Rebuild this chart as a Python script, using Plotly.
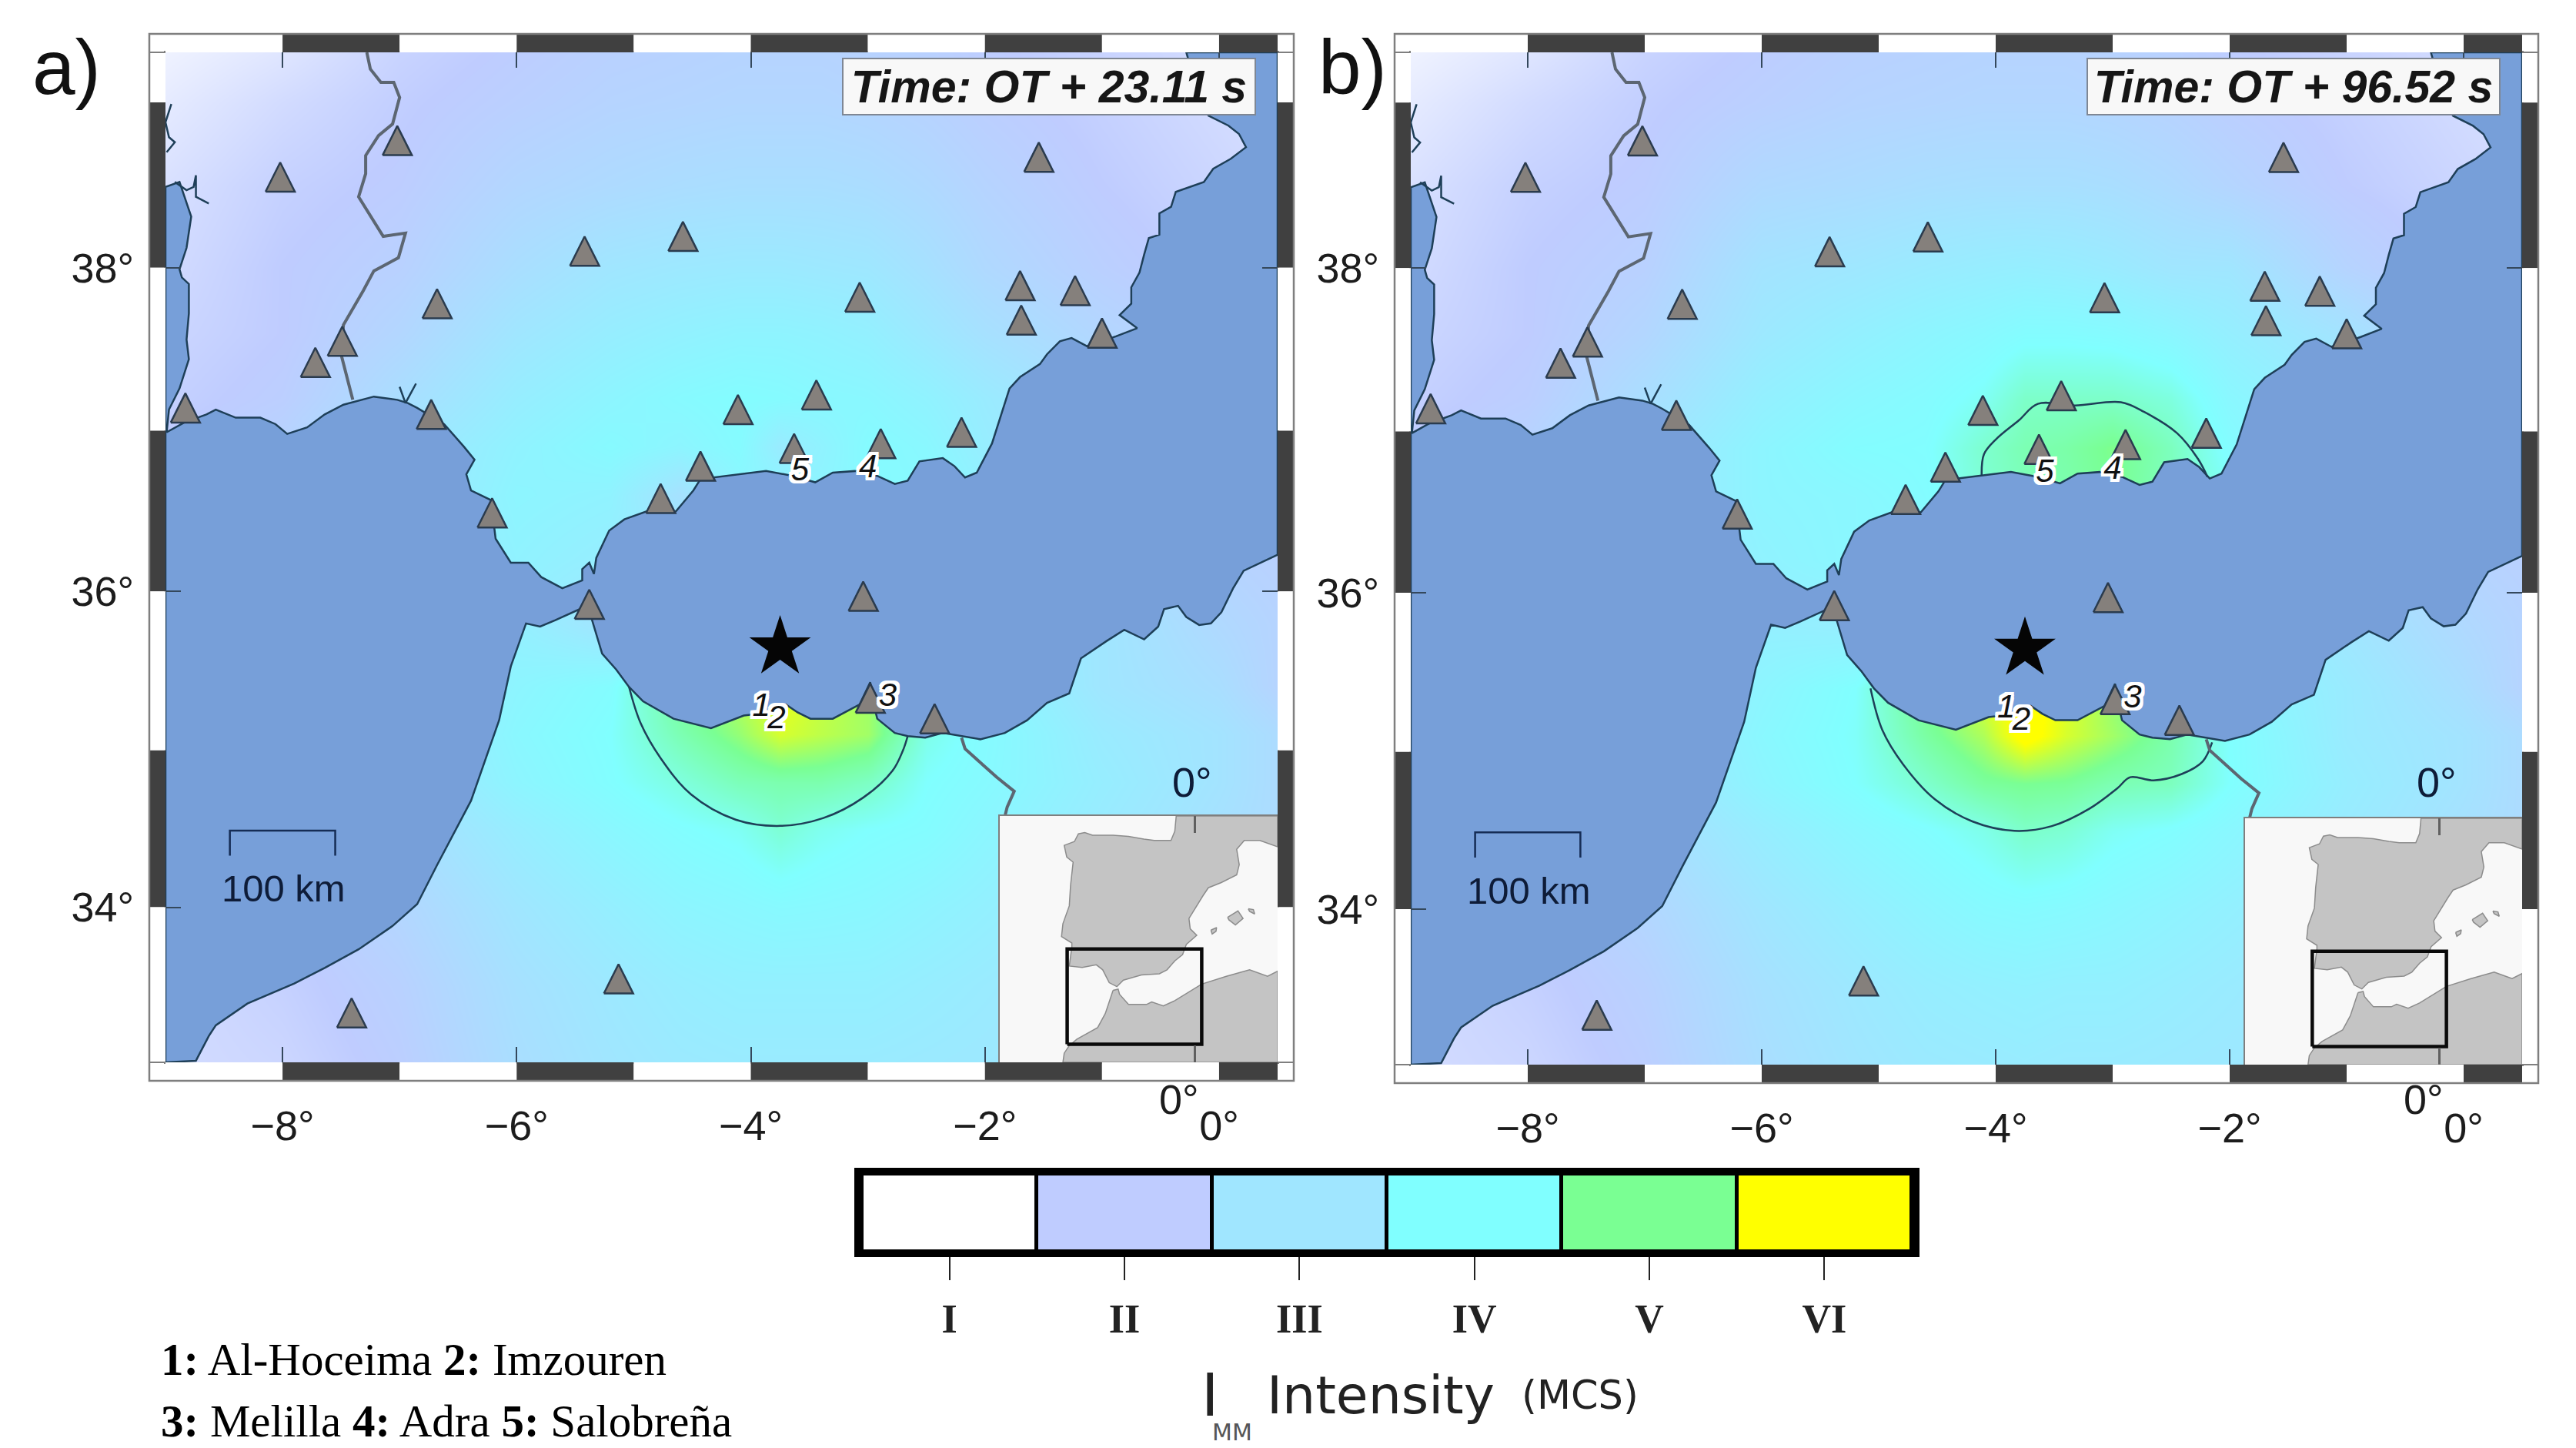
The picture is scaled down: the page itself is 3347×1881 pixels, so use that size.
import math
import plotly.graph_objects as go

W, H = 3347, 1881

# ---------- data (lon / lat in degrees) ----------
SEA_LON = [-9.0,-8.88,-8.78,-8.82,-8.88,-8.86,-8.80,-8.80,-8.82,-8.80,-8.88,-8.97,-8.99,-8.84,-8.65,-8.57,-8.40,-8.19,-8.06,-7.96,-7.79,-7.64,-7.48,-7.22,-7.02,-6.93,-6.85,-6.62,-6.45,-6.36,-6.43,-6.39,-6.22,-6.18,-6.05,-5.90,-5.79,-5.61,-5.44,-5.44,-5.38,-5.34,-5.32,-5.21,-5.08,-4.89,-4.64,-4.49,-4.43,-4.09,-3.87,-3.64,-3.45,-3.30,-3.11,-2.92,-2.77,-2.66,-2.56,-2.36,-2.26,-2.17,-2.07,-1.94,-1.83,-1.81,-1.79,-1.70,-1.53,-1.47,-1.36,-1.26,-1.13,-0.88,-0.70,-0.85,-0.75,-0.75,-0.68,-0.64,-0.60,-0.51,-0.51,-0.41,-0.37,-0.13,-0.05,0.10,0.23,0.17,0.08,-0.09,-0.15,-0.28,0.5,0.5,0.33,0.21,0.12,0.02,-0.07,-0.17,-0.28,-0.35,-0.47,-0.52,-0.64,-0.81,-0.96,-1.18,-1.28,-1.47,-1.64,-1.83,-2.04,-2.20,-2.36,-2.51,-2.66,-2.77,-2.92,-2.94,-2.98,-3.07,-3.15,-3.30,-3.49,-3.60,-3.70,-3.83,-4.06,-4.34,-4.66,-4.92,-5.04,-5.15,-5.27,-5.36,-5.38,-5.46,-5.67,-5.80,-5.92,-6.05,-6.15,-6.39,-6.68,-6.85,-7.06,-7.35,-7.64,-7.90,-8.30,-8.57,-8.63,-8.74,-9.0,-9.0]
SEA_LAT = [38.49,38.52,38.31,38.12,37.99,37.94,37.90,37.72,37.56,37.44,37.26,37.13,36.99,37.05,37.10,37.13,37.08,37.08,37.04,36.98,37.02,37.10,37.16,37.21,37.19,37.17,37.14,37.04,36.90,36.82,36.73,36.63,36.57,36.33,36.18,36.18,36.09,36.02,36.07,36.14,36.18,36.11,36.21,36.38,36.45,36.50,36.50,36.63,36.70,36.73,36.75,36.72,36.68,36.74,36.75,36.72,36.67,36.69,36.81,36.83,36.78,36.71,36.74,36.92,37.17,37.21,37.26,37.33,37.41,37.47,37.55,37.57,37.52,37.58,37.63,37.71,37.78,37.88,37.97,38.08,38.18,38.20,38.33,38.37,38.46,38.52,38.60,38.66,38.73,38.81,38.86,38.92,38.98,39.30,39.30,36.23,36.17,36.13,36.02,35.87,35.80,35.79,35.84,35.91,35.89,35.78,35.70,35.76,35.69,35.58,35.36,35.30,35.19,35.11,35.07,35.09,35.11,35.08,35.09,35.11,35.20,35.26,35.43,35.29,35.26,35.20,35.20,35.24,35.29,35.24,35.22,35.14,35.20,35.31,35.40,35.51,35.61,35.83,35.99,35.89,35.82,35.78,35.80,35.53,35.19,34.68,34.27,34.02,33.88,33.73,33.61,33.51,33.38,33.24,33.17,33.01,33.0,38.49]

TAGUS_LON = [-8.92,-8.82,-8.76,-8.74,-8.74,-8.63]
TAGUS_LAT = [38.52,38.47,38.49,38.56,38.43,38.39]
LISBON_LON = [-8.95,-9.0,-8.97,-8.92,-8.99]
LISBON_LAT = [38.99,38.88,38.79,38.76,38.70]
HUELVA_LON = [-7.0,-6.95,-6.86]
HUELVA_LAT = [37.27,37.17,37.29]

PT_ES_LON = [-7.28,-7.25,-7.16,-7.05,-7.0,-7.06,-7.18,-7.29,-7.29,-7.35,-7.14,-6.95,-7.01,-7.22,-7.31,-7.48,-7.50,-7.40]
PT_ES_LAT = [39.30,39.20,39.12,39.12,39.03,38.87,38.80,38.68,38.57,38.43,38.19,38.21,38.06,37.98,37.86,37.65,37.47,37.19]
MA_DZ_LON = [-2.20,-2.17,-2.02,-1.90,-1.75,-1.81,-1.83]
MA_DZ_LAT = [35.08,35.01,34.91,34.83,34.74,34.64,34.58]

STATION_LON = [-8.02,-7.02,-5.42,-4.58,-6.68,-7.49,-7.72,-4.11,-6.73,-8.83,-4.43,-6.21,-4.77,-1.54,-3.07,-1.70,-1.23,-1.69,-1.00,-3.44,-2.20,-2.89,-3.63,-5.38,-5.13,-7.41,-3.04,-2.43,-2.98]
STATION_LAT = [38.55,38.77,38.10,38.19,37.78,37.55,37.42,37.13,37.10,37.14,36.78,36.49,36.58,38.67,37.82,37.89,37.86,37.68,37.60,37.22,36.99,36.92,36.89,35.92,33.54,33.32,35.97,35.20,35.33]
EPICENTRE = (-3.75, 35.65)

CITY_IDS = ["1", "2", "3", "4", "5"]
CITY_LON = [-3.91, -3.78, -2.83, -3.00, -3.58]
CITY_LAT = [35.27, 35.19, 35.33, 36.76, 36.74]

CONTOUR_A_LON = [-5.04,-4.94,-4.77,-4.51,-4.13,-3.75,-3.38,-3.04,-2.79,-2.70,-2.66]
CONTOUR_A_LAT = [35.40,35.17,34.95,34.72,34.56,34.52,34.57,34.70,34.87,35.00,35.09]
CONTOUR_B_S_LON = [-5.07,-4.97,-4.79,-4.52,-4.20,-3.84,-3.52,-3.20,-2.96,-2.85,-2.65,-2.41,-2.23,-2.15]
CONTOUR_B_S_LAT = [35.40,35.14,34.92,34.70,34.56,34.50,34.53,34.64,34.77,34.84,34.82,34.86,34.94,35.06]
CONTOUR_B_N_LON = [-4.12,-4.10,-4.00,-3.80,-3.64,-3.32,-2.93,-2.73,-2.45,-2.27,-2.19]
CONTOUR_B_N_LAT = [36.73,36.86,36.95,37.07,37.17,37.16,37.18,37.12,36.99,36.83,36.72]

LAT_GRID = [33.0,33.5,34.0,34.5,34.8,35.1,35.4,35.8,36.2,36.6,36.9,37.2,37.6,38.0,38.5,39.0,39.3]
LON_GRID = [-9,-8,-7,-6,-5.2,-4.6,-4.1,-3.75,-3.4,-3,-2.5,-2,-1,0,0.5]

INTENSITY_A = [
 [1.7,1.8,2.1,2.7,3.0,3.15,3.2,3.2,3.2,3.2,3.15,3.1,3.0,2.8,2.6],
 [1.7,1.9,2.2,2.8,3.1,3.3,3.4,3.4,3.4,3.4,3.3,3.2,3.0,2.8,2.6],
 [1.8,2.0,2.4,3.0,3.35,3.6,3.7,3.78,3.75,3.7,3.55,3.4,3.1,2.8,2.6],
 [1.9,2.1,2.7,3.3,3.7,3.95,4.1,4.4,4.15,4.0,3.9,3.65,3.2,2.8,2.6],
 [2.0,2.2,2.9,3.6,3.95,4.3,4.65,4.75,4.75,4.55,4.0,3.8,3.3,2.9,2.6],
 [2.0,2.3,3.0,3.7,4.0,4.7,5.2,5.7,5.5,5.3,4.2,3.85,3.2,2.9,2.6],
 [2.0,2.3,3.0,3.6,3.9,5.0,5.5,5.9,5.6,5.3,4.2,3.7,3.0,2.7,2.3],
 [2.0,2.3,3.0,3.4,2.9,3.5,4.0,4.0,4.0,4.0,3.8,3.5,3.0,2.5,2.3],
 [2.0,2.3,3.0,3.5,3.3,3.3,3.5,3.5,3.5,3.5,3.3,3.0,2.7,2.3,2.2],
 [2.1,2.4,3.0,3.6,3.5,2.8,3.6,3.7,3.6,3.8,3.8,3.5,3.0,2.5,2.2],
 [2.0,2.3,3.0,3.5,3.8,3.6,3.85,3.2,3.5,3.85,3.7,3.3,2.8,2.3,2.0],
 [1.9,2.1,2.7,3.3,3.6,3.8,3.9,3.85,3.75,3.7,3.5,3.2,2.7,2.2,1.9],
 [1.8,2.0,2.4,3.0,3.3,3.45,3.55,3.55,3.5,3.4,3.1,2.8,2.4,2.1,1.9],
 [1.7,2.0,2.2,2.7,3.0,3.1,3.15,3.15,3.1,3.05,2.8,2.5,2.15,1.9,1.8],
 [1.6,1.9,2.05,2.4,2.55,2.65,2.7,2.7,2.7,2.65,2.5,2.3,2.0,1.8,1.7],
 [1.4,1.7,1.95,2.15,2.3,2.35,2.4,2.4,2.4,2.35,2.25,2.1,1.9,1.7,1.6],
 [1.25,1.5,1.85,2.05,2.2,2.25,2.3,2.3,2.3,2.25,2.2,2.05,1.85,1.7,1.6],
]
INTENSITY_B = [
 [1.7,1.8,2.1,2.7,3.0,3.15,3.2,3.25,3.2,3.2,3.15,3.1,3.0,2.8,2.6],
 [1.7,1.9,2.2,2.8,3.1,3.3,3.4,3.45,3.4,3.4,3.3,3.2,3.0,2.8,2.6],
 [1.8,2.0,2.4,3.0,3.35,3.6,3.8,3.85,3.8,3.7,3.55,3.4,3.1,2.8,2.6],
 [1.9,2.1,2.7,3.3,3.7,3.95,4.2,4.5,4.4,4.1,3.95,3.7,3.2,2.8,2.6],
 [2.0,2.2,2.9,3.6,4.0,4.45,4.9,5.0,4.95,4.7,4.6,4.0,3.3,2.9,2.6],
 [2.0,2.3,3.0,3.7,4.05,4.85,5.4,6.2,5.7,5.3,4.75,4.0,3.2,2.9,2.6],
 [2.0,2.3,3.0,3.6,4.0,5.1,5.8,6.3,5.8,5.2,4.6,3.8,3.2,2.7,2.3],
 [2.0,2.3,3.0,3.4,3.3,3.8,4.0,4.0,4.0,4.0,3.8,3.5,3.0,2.5,2.3],
 [2.0,2.3,3.0,3.5,3.7,3.6,3.7,3.7,3.7,3.7,3.5,3.2,2.8,2.3,2.2],
 [2.1,2.4,3.0,3.6,3.7,3.9,4.4,4.65,4.75,5.0,4.6,4.1,3.2,2.5,2.2],
 [2.0,2.3,3.0,3.6,3.9,3.95,4.45,4.7,4.8,5.05,4.6,3.9,3.0,2.4,2.0],
 [1.9,2.1,2.7,3.4,3.7,3.85,4.1,4.5,4.5,4.5,4.3,3.7,3.2,2.3,1.9],
 [1.8,2.0,2.4,3.1,3.4,3.6,3.75,3.9,3.9,3.85,3.65,3.35,2.9,2.1,1.9],
 [1.7,2.0,2.2,2.9,3.05,3.2,3.3,3.35,3.3,3.2,3.0,3.0,2.3,1.9,1.8],
 [1.6,1.9,2.05,2.5,2.6,2.7,2.75,2.75,2.75,2.7,2.55,2.35,2.0,1.8,1.7],
 [1.4,1.7,1.95,2.15,2.3,2.35,2.4,2.4,2.4,2.35,2.25,2.1,1.9,1.7,1.6],
 [1.25,1.5,1.85,2.05,2.2,2.25,2.3,2.3,2.3,2.25,2.2,2.05,1.85,1.7,1.6],
]

INSET_IBERIA_LON = [-1.3,-1.40,-1.67,-2.85,-3.58,-4.67,-5.76,-7.21,-7.76,-8.21,-8.49,-9.21,-9.03,-8.58,-8.76,-8.85,-9.3,-9.4,-8.67,-8.67,-8.85,-7.94,-6.94,-6.49,-6.03,-5.49,-5.03,-3.76,-2.49,-1.95,-1.4,-0.85,-0.58,0.15,-0.31,-0.4,0.6,0.97,1.88,2.97,3.15,2.97,3.51,4.6,5.86,5.86]
INSET_IBERIA_LAT = [48.08,47.07,46.47,46.47,46.56,46.73,46.81,46.81,46.98,46.9,46.39,46.14,45.37,45.03,43.51,42.15,40.97,40.12,39.69,39.44,38.17,38.08,38.25,37.92,37.07,36.81,37.24,37.58,37.66,37.92,38.51,38.93,39.61,40.2,40.63,41.31,42.83,43.34,43.68,44.19,44.86,45.88,46.47,46.47,46.05,48.08]
INSET_AFRICA_LON = [-5.76,-6.31,-6.85,-8.31,-8.85,-9.21,-9.3,5.86,5.86,5.15,3.88,2.24,0.5,-0.49,-1.4,-2.21,-3.03,-3.4,-4.67,-5.3,-5.4]
INSET_AFRICA_LAT = [36.56,35.03,34.1,33.34,32.92,32.41,31.81,31.81,37.83,37.49,37.92,37.49,36.98,36.39,35.88,35.54,35.8,35.63,35.63,36.3,36.64]
MALLORCA_LON = [2.33,3.06,3.42,2.88,2.42]
MALLORCA_LAT = [41.39,41.81,41.31,40.88,41.22]
IBIZA_LON = [1.15,1.55,1.51,1.24]
IBIZA_LAT = [40.54,40.71,40.46,40.29]
MENORCA_LON = [3.79,4.15,4.24,3.88]
MENORCA_LAT = [41.95,41.9,41.61,41.78]

SCALE_LON = [-8.45, -8.45, -7.55, -7.55]
SCALE_LAT = [34.33, 34.49, 34.49, 34.33]

X_TICKS = [-8, -6, -4, -2, 0]
X_TICK_TEXT = ["−8°", "−6°", "−4°", "−2°", "0°"]
Y_TICKS = [34, 36, 38]
Y_TICK_TEXT = ["34°", "36°", "38°"]
BAND_LON = [-9, -8, -7, -6, -5, -4, -3, -2, -1, 0, 0.5]
BAND_LAT_TOP_DOWN = [39.3, 39, 38, 37, 36, 35, 34, 33]

MMI_LABELS = ["I", "II", "III", "IV", "V", "VI"]
MMI_VALUES = [1, 2, 3, 4, 5, 6]
MMI_COLORS = ["#FFFFFF", "#BFCCFF", "#A0E6FF", "#80FFFF", "#7AFF93", "#FFFF00"]

LON_MIN, LON_MAX, LAT_MIN, LAT_MAX = -9.0, 0.5, 33.0, 39.3
INSET_X = [-13.76, 5.86]
INSET_Y = [31.81, 48.08]
# ---------- end of data ----------

def merc(lat):
    return math.degrees(math.log(math.tan(math.pi / 4 + math.radians(lat) / 2)))

def mm(lats):
    return [merc(v) for v in lats]

SANS = "Liberation Sans"
SERIF = "Liberation Serif"
SEA = "#779FD9"
COAST = "#1E3F58"
BORDER = "#5C6672"
DARK = "#404040"
FRAME = "#7F7F7F"
INK = "#1C1C1C"
colorscale = [[(v - 1) / 5, c] for v, c in zip(MMI_VALUES, MMI_COLORS)]

fig = go.Figure()
shapes, annotations = [], []
layout = {}

def px_x(p):
    return p / W

def px_y(p):
    return 1 - p / H

def line(x, y, color, width, xa, ya, shape="linear"):
    fig.add_trace(go.Scatter(x=x, y=y, mode="lines", line=dict(color=color, width=width, shape=shape),
                             xaxis=xa, yaxis=ya, hoverinfo="skip", showlegend=False))

def text(x, y, s, size, family=SANS, color=INK, xanchor="center", **kw):
    annotations.append(dict(xref="paper", yref="paper", x=px_x(x), y=px_y(y), text=s, showarrow=False,
                            xanchor=xanchor, yanchor="middle",
                            font=dict(size=size, family=family, color=color), **kw))

HALO = ", ".join(f"{a}px {b}px 0 #fff" for a in (-4, -2, 0, 2, 4) for b in (-4, -2, 0, 2, 4))

def panel(n, xa, ya, ixa, iya, x0, x1, y0, y1, ix0, iy0, z, contours, letter, letter_x, time_text, time_x0, label_dx):
    sfx = "" if n == 1 else str(n)
    layout["xaxis" + sfx] = dict(domain=[px_x(x0), px_x(x1)], range=[LON_MIN, LON_MAX], anchor=ya,
        tickvals=X_TICKS, ticktext=X_TICK_TEXT,
        ticks="inside", ticklen=20, tickwidth=2, tickcolor="#34485C", showgrid=False, zeroline=False,
        showline=True, linecolor=FRAME, linewidth=2, mirror="ticks", ticklabelstandoff=34,
        tickfont=dict(size=54, family=SANS, color=INK))
    layout["yaxis" + sfx] = dict(domain=[px_y(y1), px_y(y0)], range=[merc(LAT_MIN), merc(LAT_MAX)], anchor=xa,
        tickvals=mm(Y_TICKS), ticktext=Y_TICK_TEXT,
        ticks="inside", ticklen=20, tickwidth=2, tickcolor="#34485C", showgrid=False, zeroline=False,
        showline=True, linecolor=FRAME, linewidth=2, mirror="ticks", ticklabelstandoff=28,
        tickfont=dict(size=54, family=SANS, color=INK))
    fig.add_trace(go.Heatmap(x=LON_GRID, y=mm(LAT_GRID), z=z, zmin=1, zmax=6, colorscale=colorscale,
                             zsmooth="best", showscale=False, xaxis=xa, yaxis=ya, hoverinfo="skip"))
    fig.add_trace(go.Scatter(x=SEA_LON, y=mm(SEA_LAT), mode="lines", fill="toself", fillcolor=SEA,
                             line=dict(color=COAST, width=2.5), xaxis=xa, yaxis=ya,
                             hoverinfo="skip", showlegend=False))
    for sx, sy in ((TAGUS_LON, TAGUS_LAT), (LISBON_LON, LISBON_LAT), (HUELVA_LON, HUELVA_LAT)):
        line(sx, mm(sy), COAST, 2.5, xa, ya)
    for cx, cy in contours:
        line(cx, mm(cy), COAST, 2.5, xa, ya, shape="spline")
    line(PT_ES_LON, mm(PT_ES_LAT), BORDER, 4, xa, ya)
    line(MA_DZ_LON, mm(MA_DZ_LAT), BORDER, 4, xa, ya)
    line(SCALE_LON, mm(SCALE_LAT), "#152C55", 2.5, xa, ya)
    annotations.append(dict(xref=xa, yref=ya, x=-7.99, y=merc(34.12), text="100 km", showarrow=False,
                            font=dict(size=49, family=SANS, color="#0E1C38")))
    half_w = 19 / 152
    half_h = 19 / 168
    tx, ty = [], []
    for lon, lat in zip(STATION_LON, STATION_LAT):
        m = merc(lat)
        tx += [lon - half_w, lon + half_w, lon, lon - half_w, None]
        ty += [m - half_h, m - half_h, m + half_h, m - half_h, None]
    fig.add_trace(go.Scatter(x=tx, y=ty, mode="lines", fill="toself", fillcolor="#85807C",
                             line=dict(color="#2A3B4E", width=2.5), xaxis=xa, yaxis=ya,
                             hoverinfo="skip", showlegend=False))
    fig.add_trace(go.Scatter(x=[EPICENTRE[0]], y=[merc(EPICENTRE[1])], mode="markers",
                             marker=dict(symbol="star", size=60, color="#050505", line=dict(width=0)),
                             xaxis=xa, yaxis=ya, hoverinfo="skip", showlegend=False))
    fig.add_trace(go.Scatter(x=CITY_LON, y=mm(CITY_LAT), mode="text", text=CITY_IDS,
                             textposition="middle center",
                             textfont=dict(size=42, family=SANS, color="#111111", style="italic", shadow=HALO),
                             xaxis=xa, yaxis=ya, hoverinfo="skip", showlegend=False))
    dw, dh_t, dh_b = 21 / (x1 - x0), 24 / (y1 - y0), 24 / (y1 - y0)
    for i in range(len(BAND_LON) - 1):
        col = DARK if i % 2 else "#FFFFFF"
        shapes.append(dict(type="rect", xref=xa, yref=ya + " domain", x0=BAND_LON[i], x1=BAND_LON[i + 1],
                           y0=1, y1=1 + dh_t, fillcolor=col, line_width=0))
        shapes.append(dict(type="rect", xref=xa, yref=ya + " domain", x0=BAND_LON[i], x1=BAND_LON[i + 1],
                           y0=-dh_b, y1=0, fillcolor=col, line_width=0))
    for i in range(len(BAND_LAT_TOP_DOWN) - 1):
        col = DARK if i % 2 else "#FFFFFF"
        a, b = merc(BAND_LAT_TOP_DOWN[i + 1]), merc(BAND_LAT_TOP_DOWN[i])
        shapes.append(dict(type="rect", xref=xa + " domain", yref=ya, x0=-dw, x1=0, y0=a, y1=b, fillcolor=col, line_width=0))
        shapes.append(dict(type="rect", xref=xa + " domain", yref=ya, x0=1, x1=1 + dw, y0=a, y1=b, fillcolor=col, line_width=0))
    shapes.append(dict(type="rect", xref=xa + " domain", yref=ya + " domain", x0=-dw, x1=1 + dw, y0=-dh_b, y1=1 + dh_t,
                       line=dict(color=FRAME, width=2.5), fillcolor="rgba(0,0,0,0)"))
    for xx in ((-dw, 0), (1, 1 + dw)):
        shapes.append(dict(type="line", xref=xa + " domain", yref=ya + " domain", x0=xx[0], x1=xx[1], y0=1, y1=1, line=dict(color=FRAME, width=2)))
        shapes.append(dict(type="line", xref=xa + " domain", yref=ya + " domain", x0=xx[0], x1=xx[1], y0=0, y1=0, line=dict(color=FRAME, width=2)))
    isfx = str(n + 2)
    layout["xaxis" + isfx] = dict(domain=[px_x(ix0), px_x(x1)], range=INSET_X, anchor=iya, tickvals=[0],
        showticklabels=False, ticks="inside", ticklen=22, tickwidth=3, tickcolor="#606060", showgrid=False,
        zeroline=False, showline=True, linecolor=FRAME, linewidth=2, mirror="ticks")
    layout["yaxis" + isfx] = dict(domain=[px_y(y1), px_y(iy0)], range=INSET_Y, anchor=ixa, showticklabels=False,
        ticks="", showgrid=False, zeroline=False, showline=True, linecolor=FRAME, linewidth=2, mirror=True)
    fig.add_trace(go.Scatter(x=[INSET_X[0], INSET_X[1], INSET_X[1], INSET_X[0], INSET_X[0]],
                             y=[INSET_Y[0], INSET_Y[0], INSET_Y[1], INSET_Y[1], INSET_Y[0]],
                             mode="lines", fill="toself", fillcolor="#F8F8F8", line=dict(width=0),
                             xaxis=ixa, yaxis=iya, hoverinfo="skip", showlegend=False))
    for lx, ly in ((INSET_IBERIA_LON, INSET_IBERIA_LAT), (INSET_AFRICA_LON, INSET_AFRICA_LAT),
                   (MALLORCA_LON, MALLORCA_LAT), (IBIZA_LON, IBIZA_LAT), (MENORCA_LON, MENORCA_LAT)):
        fig.add_trace(go.Scatter(x=lx + lx[:1], y=ly + ly[:1], mode="lines", fill="toself", fillcolor="#C4C4C4",
                                 line=dict(color="#8C8C8C", width=1.5), xaxis=ixa, yaxis=iya,
                                 hoverinfo="skip", showlegend=False))
    line([LON_MIN, LON_MAX, LON_MAX, LON_MIN, LON_MIN], [LAT_MIN, LAT_MIN, LAT_MAX, LAT_MAX, LAT_MIN], "#0A0A0A", 4.5, ixa, iya)
    text(label_dx + 1549, 1016, "0°", 54, color="#0E1C38")
    text(label_dx + 1532, 1428, "0°", 54)
    text(letter_x, 87, letter, 100, color="#111111", xanchor="left")
    annotations.append(dict(xref="paper", yref="paper", x=px_x(time_x0), y=px_y(112.5), xanchor="left", yanchor="middle",
                            text=f"<b><i>{time_text}</i></b>", showarrow=False, width=534, height=71, align="center",
                            bgcolor="#F8F8F8", bordercolor="#7F8794", borderwidth=2, borderpad=0,
                            font=dict(size=59, family=SANS, color="#161616")))

panel(1, "x", "y", "x3", "y3", 215, 1660, 68, 1380, 1299, 1060, INTENSITY_A,
      [(CONTOUR_A_LON, CONTOUR_A_LAT)], "a)", 40, "Time: OT + 23.11 s", 1094, 0)
panel(2, "x2", "y2", "x4", "y4", 1833, 3277, 68, 1383, 2917, 1063, INTENSITY_B,
      [(CONTOUR_B_S_LON, CONTOUR_B_S_LAT), (CONTOUR_B_N_LON, CONTOUR_B_N_LAT)], "b)", 1711, "Time: OT + 96.52 s", 2711, 1617)

fig.add_trace(go.Heatmap(x=MMI_LABELS, y=["MMI"], z=[MMI_VALUES], zmin=1, zmax=6, colorscale=colorscale, showscale=False,
                         xgap=5, xaxis="x5", yaxis="y5", hoverinfo="skip"))
layout["xaxis5"] = dict(domain=[px_x(1120), px_x(2484)], anchor="y5", type="category", ticks="outside", ticklen=30,
                        tickwidth=2, tickcolor="#222222", showgrid=False, zeroline=False,
                        showline=True, linecolor="#000000", linewidth=10, mirror=True, ticklabelstandoff=6,
                        tickfont=dict(size=52, family=SERIF, color="#222222", weight="bold"))
layout["yaxis5"] = dict(domain=[px_y(1623), px_y(1527)], anchor="x5", showticklabels=False, ticks="", showgrid=False,
                        zeroline=False, showline=True, linecolor="#000000", linewidth=10, mirror=True)
shapes.append(dict(type="rect", layer="below", xref="x5 domain", yref="y5 domain", x0=0, x1=1, y0=0, y1=1,
                   fillcolor="#000000", line_width=0))

text(1572, 1812, "I", 76, family="DejaVu Sans", color="#222222")
text(1601, 1860, "MM", 30, family="DejaVu Sans", color="#555555")
text(1794, 1812, "Intensity", 68, family="DejaVu Sans", color="#222222")
text(2053, 1812, "(MCS)", 51, family="DejaVu Sans", color="#222222")

text(207, 1766, "<b>1:</b> Al-Hoceima <b>2:</b> Imzouren", 59, family=SERIF, color="#000000", xanchor="left")
text(207, 1846, "<b>3:</b> Melilla <b>4:</b> Adra <b>5:</b> Salobreña", 59, family=SERIF, color="#000000", xanchor="left")

fig.update_layout(width=W, height=H, autosize=False, margin=dict(l=0, r=0, t=0, b=0, pad=0),
                  paper_bgcolor="#FFFFFF", plot_bgcolor="#FFFFFF", showlegend=False,
                  shapes=shapes, annotations=annotations, **layout)
fig.write_html("out.html", config=dict(displayModeBar=False),
               post_script="document.body.style.margin='0';")
